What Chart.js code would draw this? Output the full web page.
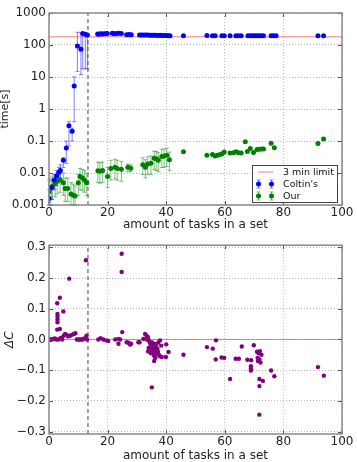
<!DOCTYPE html>
<html>
<head>
<meta charset="utf-8">
<script src="https://cdn.jsdelivr.net/npm/chart.js@4/dist/chart.umd.min.js"></script>
<style>
  html, body { margin:0; padding:0; background:#fff; }
  #wrap { position:relative; width:357px; height:462px; }
  #wrap canvas { position:absolute; left:0; }
</style>
</head>
<body>
<div id="wrap">
  <canvas id="topChart" width="357" height="235" style="top:0"></canvas>
  <canvas id="botChart" width="357" height="227" style="top:235px"></canvas>
</div>
<script>
// ---- data ----
// Coltin's (blue), first 16 points carry error bars
const coltinX = [0.1, 1.0, 1.8, 2.6, 3.4, 3.9, 4.9, 5.9, 6.8, 7.9, 8.6, 9.7, 10.9, 11.5, 12.4, 13.1,
  16.6, 17.0, 17.6, 18.1, 18.8, 19.5, 19.9, 21.6, 22.3, 23.0, 23.8, 24.7, 26.5, 27.3, 28.1,
  30.9, 31.6, 32.3, 33.0, 33.7, 34.4, 35.1, 35.8, 36.5, 37.2, 37.9, 38.6, 39.3, 40.0, 40.7, 41.3,
  45.9, 53.9, 55.8, 56.7, 59.0, 59.8, 61.8, 63.8, 64.6, 65.6, 67.9, 68.7, 69.5, 70.2, 71.0, 71.7, 72.5, 73.2, 75.8, 76.6, 77.5, 91.8, 93.7];
const coltinY = [0.0016, 0.0035, 0.006, 0.008, 0.0105, 0.012, 0.025, 0.06, 0.3, 0.2, 5.2, 93, 73, 230, 215, 205,
  222, 218, 225, 220, 224, 226, 228, 232, 226, 230, 234, 228, 210, 212, 209,
  205, 207, 206, 204, 206, 203, 202, 201, 200, 199, 200, 198, 197, 198, 196, 195,
  195, 197, 196, 195, 196, 195, 196, 195, 194, 195, 194, 195, 194, 195, 194, 195, 194, 195, 194, 195, 194, 194, 195];
const coltinLo = [0.001, 0.0015, 0.003, 0.004, 0.005, 0.006, 0.015, 0.02, 0.07, 0.1, 0.4, 15, 12, 18, 18, 18];
const coltinHi = [0.003, 0.006, 0.009, 0.012, 0.015, 0.018, 0.03, 0.1, 0.4, 0.25, 10, 250, 240, 240, 230, 220];

// Our (green), first 38 points carry error bars
const ourX = [0.0, 0.3, 1.1, 2.1, 2.8, 3.8, 4.9, 5.5, 6.4, 7.5, 8.3, 8.9, 10.0, 10.6, 11.4, 12.1, 12.9,
  16.7, 17.4, 18.3, 20.0, 21.1, 22.5, 23.3, 24.7, 26.9, 27.9, 32.0, 32.9, 33.7, 34.8, 35.9, 36.6, 37.3, 38.5, 39.3, 40.2, 41.1,
  45.9, 53.9, 55.8, 56.7, 57.5, 58.4, 59.1, 59.8, 61.8, 63.0, 63.8, 64.7, 65.6, 67.0, 67.7, 68.7, 69.8, 71.0, 71.7, 72.5, 73.2, 75.8, 76.9, 91.8, 93.7];
const ourY = [0.0026, 0.0033, 0.0038, 0.0047, 0.0055, 0.0062, 0.005, 0.0033, 0.0033, 0.0022, 0.002, 0.0019, 0.005, 0.0078, 0.007, 0.006, 0.005,
  0.0118, 0.0113, 0.012, 0.0078, 0.0137, 0.015, 0.0137, 0.013, 0.015, 0.014, 0.018, 0.015, 0.019, 0.02, 0.029, 0.028, 0.025, 0.033, 0.034, 0.036, 0.026,
  0.046, 0.036, 0.038, 0.034, 0.036, 0.038, 0.04, 0.045, 0.042, 0.043, 0.046, 0.043, 0.042, 0.095, 0.047, 0.058, 0.044, 0.054, 0.055, 0.056, 0.056, 0.085, 0.062, 0.083, 0.115];
const ourLo = [0.001, 0.0012, 0.0015, 0.0018, 0.0022, 0.0025, 0.002, 0.0013, 0.0013, 0.001, 0.001, 0.001, 0.002, 0.003, 0.0028, 0.0025, 0.002,
  0.005, 0.0048, 0.005, 0.0035, 0.006, 0.0065, 0.006, 0.0055, 0.011, 0.011, 0.009, 0.007, 0.009, 0.009, 0.013, 0.012, 0.011, 0.015, 0.015, 0.016, 0.012];
const ourHi = [0.006, 0.007, 0.008, 0.009, 0.01, 0.011, 0.01, 0.007, 0.007, 0.005, 0.0045, 0.004, 0.009, 0.014, 0.013, 0.012, 0.01,
  0.022, 0.021, 0.022, 0.015, 0.025, 0.027, 0.025, 0.023, 0.019, 0.018, 0.03, 0.026, 0.032, 0.034, 0.048, 0.047, 0.043, 0.055, 0.056, 0.06, 0.045];

// Delta C (purple)
const dcX = [0.2, 0.6, 1.0, 1.5, 2.0, 2.5, 2.8, 2.9, 2.9, 2.9, 2.9, 2.8, 3.2, 3.7, 3.7, 4.0, 4.5, 4.9, 5.0, 5.5, 6.0, 6.5, 6.9, 7.2, 7.8, 8.5, 9.0, 9.5, 10.0, 10.5, 11.0, 11.5, 12.0, 12.6, 12.8, 13.0,
  16.8, 17.6, 18.5, 19.5, 20.2, 22.6, 23.7, 23.7, 24.3, 24.8, 24.8, 25.0, 26.5, 27.1, 27.7, 28.0, 30.5,
  30.9, 32.2, 32.8, 33.3, 33.4, 33.8, 33.8, 34.0, 34.2, 34.5, 34.8, 35.0, 35.1, 35.2, 35.5, 35.5, 35.8, 35.9, 36.0, 36.0, 36.2, 36.5, 36.8, 37.0, 37.3, 37.5, 37.9, 37.9, 38.3, 38.5, 39.9, 40.0, 40.8,
  34.5, 35.2, 35.8, 36.3, 34.8, 36.5, 35.0, 37.2,
  45.9, 53.9, 55.9, 56.9, 57.0, 58.9, 59.8, 61.8, 63.7, 64.8, 65.8, 67.7, 69.0, 68.9, 68.9, 68.9, 69.9, 71.0, 71.5, 72.0, 72.5, 71.2, 71.8, 71.3, 72.2, 71.8, 73.0, 71.8, 71.8, 75.8, 76.9, 91.8, 93.8];
const dcY = [0.0, 0.0, 0.0, 0.002, 0.003, 0.0, 0.118, 0.083, 0.075, 0.065, 0.056, 0.032, 0.0, 0.136, 0.034, 0.005, 0.0, 0.091, 0.012, 0.018, 0.015, 0.01, 0.198, 0.012, 0.015, 0.018, 0.02, 0.0, 0.0, 0.0, 0.0, 0.0, 0.003, 0.258, 0.012, 0.0,
  0.0, 0.004, 0.0, -0.003, -0.005, 0.0, 0.002, -0.014, 0.0, 0.279, 0.22, 0.024, -0.009, -0.011, -0.017, -0.014, -0.009,
  -0.009, 0.002, 0.018, 0.012, 0.0, 0.007, -0.039, -0.028, -0.005, -0.012, -0.02, -0.03, -0.156, -0.01, -0.025, -0.045, -0.035, -0.07, -0.015, -0.055, -0.04, -0.02, -0.045, -0.03, -0.01, -0.05, -0.003, -0.055, -0.02, -0.057, -0.057, -0.016, -0.041,
  -0.03, -0.04, -0.05, -0.06, -0.045, -0.03, -0.015, -0.04,
  -0.05, -0.025, -0.03, -0.065, -0.003, -0.059, -0.06, -0.129, -0.063, -0.063, -0.023, -0.066, -0.068, -0.087, -0.095, -0.101, -0.019, -0.04, -0.045, -0.038, -0.05, -0.06, -0.065, -0.07, -0.075, -0.129, -0.135, -0.152, -0.245, -0.101, -0.12, -0.09, -0.118];

const limitSeconds = 180;      // "3 min limit"
const splitX = 13.3;           // dashed vertical line
const xTicks = [0, 20, 40, 60, 80, 100];
const timeTicks = [0.001, 0.01, 0.1, 1, 10, 100, 1000];
const timeTickLabels = ['0.001', '0.01', '0.1', '1', '10', '100', '1000'];
const dcTicks = [-0.3, -0.2, -0.1, 0, 0.1, 0.2, 0.3];
const dcTickLabels = ['\u22120.3', '\u22120.2', '\u22120.1', '0.0', '0.1', '0.2', '0.3'];

// ---- helpers ----
const pts = (xs, ys) => xs.map((x, i) => ({x: x, y: ys[i]}));
Chart.defaults.font.family = "'DejaVu Sans', sans-serif";
Chart.defaults.color = '#222';
Chart.defaults.animation = false;

// vertical error bars with caps, drawn under the markers
const errorBars = {
  id: 'errorBars',
  beforeDatasetsDraw(chart){
    const ctx = chart.ctx, xs = chart.scales.x, ys = chart.scales.y;
    chart.data.datasets.forEach(ds => {
      if(!ds.errLo) return;
      ctx.save();
      ctx.strokeStyle = ds.errColor;
      ctx.lineWidth = 1;
      ds.errLo.forEach((lo, i) => {
        const px = xs.getPixelForValue(ds.data[i].x);
        const y1 = ys.getPixelForValue(lo), y2 = ys.getPixelForValue(ds.errHi[i]);
        ctx.beginPath();
        ctx.moveTo(px, y1); ctx.lineTo(px, y2);
        ctx.moveTo(px-2, y1); ctx.lineTo(px+2, y1);
        ctx.moveTo(px-2, y2); ctx.lineTo(px+2, y2);
        ctx.stroke();
      });
      ctx.restore();
    });
  }
};

// matplotlib-like frame with inward ticks
const frame = {
  id: 'frame',
  afterDraw(chart){
    const {ctx, chartArea: a} = chart;
    const xs = chart.scales.x, ys = chart.scales.y;
    ctx.save();
    ctx.strokeStyle = '#555';
    ctx.lineWidth = 1;
    ctx.beginPath();
    xs.ticks.forEach(t => {
      const px = Math.round(xs.getPixelForValue(t.value)) + 0.5;
      ctx.moveTo(px, a.bottom); ctx.lineTo(px, a.bottom - 4);
      ctx.moveTo(px, a.top); ctx.lineTo(px, a.top + 4);
    });
    ys.ticks.forEach(t => {
      const py = Math.round(ys.getPixelForValue(t.value)) + 0.5;
      ctx.moveTo(a.left, py); ctx.lineTo(a.left + 4, py);
      ctx.moveTo(a.right, py); ctx.lineTo(a.right - 4, py);
    });
    ctx.stroke();
    ctx.strokeStyle = '#8a8a8a';
    ctx.lineWidth = 1.5;
    ctx.strokeRect(a.left, a.top, a.right - a.left, a.bottom - a.top);
    ctx.restore();
  }
};

// legend box in the lower right of the top plot
const legendBox = {
  id: 'legendBox',
  afterDraw(chart){
    const {ctx, chartArea: a} = chart;
    const items = chart.data.datasets.filter(d => d.legendPos !== undefined)
      .sort((p, q) => p.legendPos - q.legendPos);
    const w = 85, h = 37;
    const x = a.right - 5 - w, y = a.bottom - 3 - h;
    ctx.save();
    ctx.fillStyle = '#fff';
    ctx.fillRect(x, y, w, h);
    ctx.strokeStyle = '#444';
    ctx.lineWidth = 1;
    ctx.strokeRect(x + 0.5, y + 0.5, w, h);
    items.forEach((ds, i) => {
      const cy = y + 7 + i * 12;
      if(ds.showLine){
        ctx.strokeStyle = ds.borderColor;
        ctx.lineWidth = 1;
        ctx.beginPath(); ctx.moveTo(x + 6, cy); ctx.lineTo(x + 21, cy); ctx.stroke();
      } else {
        [x + 6.5, x + 19.5].forEach(mx => {
          ctx.strokeStyle = ds.errColor;
          ctx.beginPath();
          ctx.moveTo(mx, cy - 4); ctx.lineTo(mx, cy + 4);
          ctx.moveTo(mx - 2, cy - 4); ctx.lineTo(mx + 2, cy - 4);
          ctx.moveTo(mx - 2, cy + 4); ctx.lineTo(mx + 2, cy + 4);
          ctx.stroke();
          ctx.fillStyle = ds.backgroundColor;
          ctx.beginPath(); ctx.arc(mx, cy, 2.5, 0, Math.PI * 2); ctx.fill();
        });
      }
      ctx.fillStyle = '#111';
      ctx.font = "9.5px 'DejaVu Sans'";
      ctx.textBaseline = 'middle';
      ctx.fillText(ds.label, x + 31, cy + 0.5);
    });
    ctx.restore();
  }
};

const gridOpts = {color: 'rgba(0,0,0,0.28)', lineWidth: 1, drawTicks: false};
const borderOpts = {display: false, dash: [1, 2]};

function xAxis(height, titlePad){
  return {
    type: 'linear', min: 0, max: 100,
    afterBuildTicks: s => { s.ticks = xTicks.map(v => ({value: v})); },
    afterFit: s => { s.height = height; },
    grid: gridOpts, border: borderOpts,
    ticks: {padding: 1, font: {size: 12}, color: '#222'},
    title: {display: true, text: 'amount of tasks in a set', font: {size: 12, lineHeight: 1}, padding: {top: 0, bottom: titlePad}, color: '#222'}
  };
}

// ---- top: time per task set ----
new Chart(document.getElementById('topChart'), {
  type: 'scatter',
  data: {
    datasets: [
      {label: "Coltin's", data: pts(coltinX, coltinY), backgroundColor: '#0000ff', borderWidth: 0, pointRadius: 2.5,
        errLo: coltinLo, errHi: coltinHi, errColor: 'rgba(60,60,255,0.65)', legendPos: 1, order: 1},
      {label: 'Our', data: pts(ourX, ourY), backgroundColor: '#008000', borderWidth: 0, pointRadius: 2.5,
        errLo: ourLo, errHi: ourHi, errColor: 'rgba(40,150,40,0.6)', legendPos: 2, order: 1},
      {label: '3 min limit', data: [{x: 0, y: limitSeconds}, {x: 100, y: limitSeconds}], showLine: true,
        borderColor: 'rgba(240,80,80,0.75)', borderWidth: 1, pointRadius: 0, legendPos: 0, order: 3},
      {label: 'split', data: [{x: splitX, y: 0.001}, {x: splitX, y: 1000}], showLine: true,
        borderColor: '#444', borderWidth: 1, borderDash: [4, 3], pointRadius: 0, order: 2}
    ]
  },
  options: {
    responsive: false,
    layout: {padding: {top: 13, right: 15, left: 0, bottom: 0}},
    plugins: {legend: {display: false}, tooltip: {enabled: false}},
    scales: {
      x: xAxis(30, 4),
      y: {
        type: 'logarithmic', min: 0.001, max: 1000,
        afterBuildTicks: s => { s.ticks = timeTicks.map(v => ({value: v})); },
        afterFit: s => { s.width = 49; },
        grid: gridOpts, border: borderOpts,
        ticks: {padding: 3, font: {size: 12}, color: '#222', callback: (v, i) => timeTickLabels[i]},
        title: {display: true, text: 'time[s]', font: {size: 11, lineHeight: 1}, padding: {top: 0, bottom: 0}, color: '#222'}
      }
    }
  },
  plugins: [errorBars, frame, legendBox]
});

// ---- bottom: Delta C ----
new Chart(document.getElementById('botChart'), {
  type: 'scatter',
  data: {
    datasets: [
      {label: 'dC', data: pts(dcX, dcY), backgroundColor: '#800080', borderWidth: 0, pointRadius: 2.2, order: 1},
      {label: 'zero', data: [{x: 0, y: 0}, {x: 100, y: 0}], showLine: true,
        borderColor: 'rgba(240,80,80,0.75)', borderWidth: 1, pointRadius: 0, order: 3},
      {label: 'split', data: [{x: splitX, y: -0.308}, {x: splitX, y: 0.307}], showLine: true,
        borderColor: '#444', borderWidth: 1, borderDash: [4, 3], pointRadius: 0, order: 2}
    ]
  },
  options: {
    responsive: false,
    layout: {padding: {top: 8, right: 15, left: 0, bottom: 0}},
    plugins: {legend: {display: false}, tooltip: {enabled: false}},
    scales: {
      x: xAxis(28, 0),
      y: {
        type: 'linear', min: -0.308, max: 0.307,
        afterBuildTicks: s => { s.ticks = dcTicks.map(v => ({value: v})); },
        afterFit: s => { s.width = 49; },
        grid: gridOpts, border: borderOpts,
        ticks: {padding: 3, font: {size: 12}, color: '#222', callback: (v, i) => dcTickLabels[i]},
        title: {display: true, text: '\u0394C', font: {size: 12, lineHeight: 1, style: 'italic'}, padding: {top: 4, bottom: 0}, color: '#222'}
      }
    }
  },
  plugins: [frame]
});
</script>
</body>
</html>
